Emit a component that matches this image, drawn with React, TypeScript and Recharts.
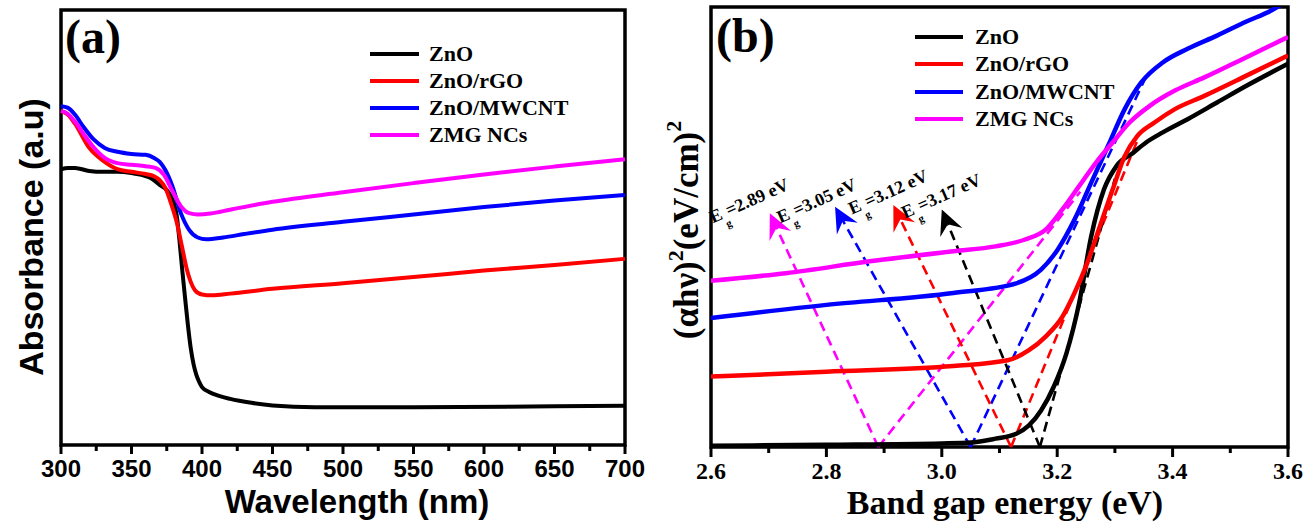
import React from 'react';
import {
  LineChart,
  Line,
  XAxis,
  YAxis,
  ReferenceArea,
  ReferenceLine,
  ReferenceDot,
  Legend,
} from 'recharts';

// ---------- (a) UV-vis absorbance spectra ----------
const wlTicks = [300, 325, 350, 375, 400, 425, 450, 475, 500, 525, 550, 575, 600, 625, 650, 675, 700];

const wlZnO = [300, 305, 310, 320, 330, 340, 350, 360, 365, 370, 375, 378, 380, 382, 384, 386, 388, 390, 392, 394, 396, 398, 400, 405, 412, 420, 435, 450, 480, 550, 650, 700];
const absZnO = [0.634, 0.637, 0.637, 0.63, 0.628, 0.628, 0.625, 0.618, 0.611, 0.598, 0.586, 0.572, 0.556, 0.529, 0.471, 0.402, 0.338, 0.276, 0.223, 0.186, 0.161, 0.145, 0.133, 0.122, 0.113, 0.106, 0.097, 0.091, 0.087, 0.087, 0.089, 0.09];

const wlRGO = [300, 305, 310, 320, 330, 340, 350, 360, 366, 370, 374, 378, 382, 386, 389, 392, 395, 400, 407, 420, 450, 500, 550, 600, 650, 700];
const absRGO = [0.768, 0.759, 0.738, 0.683, 0.653, 0.634, 0.628, 0.623, 0.618, 0.609, 0.591, 0.556, 0.513, 0.453, 0.407, 0.375, 0.356, 0.346, 0.344, 0.348, 0.359, 0.372, 0.386, 0.401, 0.414, 0.428];

const wlCNT = [300, 305, 310, 316, 323, 331, 340, 350, 360, 366, 370, 374, 379, 385, 391, 397, 403, 415, 430, 450, 500, 550, 600, 650, 700];
const absCNT = [0.779, 0.775, 0.759, 0.731, 0.703, 0.683, 0.674, 0.669, 0.667, 0.66, 0.651, 0.632, 0.595, 0.533, 0.494, 0.477, 0.473, 0.477, 0.485, 0.495, 0.513, 0.53, 0.547, 0.562, 0.575];

const wlZMG = [300, 305, 310, 316, 323, 331, 340, 350, 360, 367, 373, 379, 385, 391, 397, 406, 420, 450, 500, 550, 600, 650, 700];
const absZMG = [0.768, 0.761, 0.743, 0.715, 0.685, 0.66, 0.648, 0.644, 0.641, 0.637, 0.621, 0.584, 0.549, 0.533, 0.53, 0.532, 0.541, 0.559, 0.581, 0.602, 0.622, 0.64, 0.657];

// ---------- (b) Tauc plots ----------
const eTicks = [2.6, 2.7, 2.8, 2.9, 3.0, 3.1, 3.2, 3.3, 3.4, 3.5, 3.6];

const eZnO = [2.6, 2.8, 3.0, 3.05, 3.093, 3.129, 3.151, 3.172, 3.194, 3.216, 3.238, 3.259, 3.281, 3.303, 3.332, 3.354, 3.383, 3.426, 3.477, 3.528, 3.6];
const tZnO = [0.003, 0.005, 0.008, 0.01, 0.019, 0.03, 0.049, 0.083, 0.137, 0.213, 0.327, 0.479, 0.585, 0.639, 0.669, 0.692, 0.715, 0.745, 0.783, 0.821, 0.871];

const eRGO = [2.6, 2.8, 3.02, 3.114, 3.151, 3.18, 3.209, 3.23, 3.252, 3.274, 3.296, 3.317, 3.339, 3.368, 3.404, 3.455, 3.528, 3.6];
const tRGO = [0.16, 0.171, 0.184, 0.197, 0.22, 0.251, 0.296, 0.35, 0.418, 0.502, 0.585, 0.661, 0.707, 0.737, 0.768, 0.798, 0.844, 0.89];

const eCNT = [2.6, 2.8, 3.02, 3.129, 3.172, 3.201, 3.23, 3.259, 3.288, 3.317, 3.346, 3.383, 3.426, 3.477, 3.528, 3.571, 3.6];
const tCNT = [0.293, 0.323, 0.35, 0.372, 0.403, 0.449, 0.517, 0.601, 0.684, 0.768, 0.829, 0.874, 0.905, 0.935, 0.967, 0.992, 1.015];

const eZMG = [2.6, 2.73, 2.875, 3.02, 3.093, 3.143, 3.18, 3.209, 3.238, 3.267, 3.296, 3.325, 3.361, 3.404, 3.455, 3.528, 3.6];
const tZMG = [0.378, 0.395, 0.422, 0.445, 0.456, 0.471, 0.494, 0.54, 0.593, 0.646, 0.692, 0.737, 0.776, 0.81, 0.84, 0.886, 0.932];

// Band-gap extrapolation (order: ZMG NCs, ZnO/MWCNT, ZnO/rGO, ZnO)
const gapValues = [2.89, 3.05, 3.12, 3.17];
const gapColors = ['#ff00ff', '#0000ff', '#ff0000', '#000000'];
const tangentTopE = [3.24, 3.357, 3.34, 3.3];
const tangentTopT = [0.58, 0.85, 0.7, 0.61];
const arrowTipE = [2.702, 2.815, 2.916, 3.0];
const arrowTipT = [0.531, 0.546, 0.55, 0.54];
const labelE = [2.603, 2.72, 2.844, 2.936];
const labelT = [0.508, 0.508, 0.528, 0.519];

const seriesNames = ['ZnO', 'ZnO/rGO', 'ZnO/MWCNT', 'ZMG NCs'];

const zip = (xs: number[], ys: number[]) => xs.map((x, i) => ({ x, y: ys[i] }));

const SANS = '"Liberation Sans", Arial, sans-serif';
const SERIF = '"Liberation Serif", "Times New Roman", serif';

const WlTick = (props: any) => {
  const { x, y, payload } = props;
  const v = payload.value as number;
  const major = v % 50 === 0;
  return (
    <g>
      <line x1={x} x2={x} y1={y} y2={y + (major ? 9 : 6)} stroke="#000" strokeWidth={3} />
      {major && (
        <text x={x} y={y + 32} textAnchor="middle" fontFamily={SANS} fontWeight="bold" fontSize={24} fill="#000">
          {v}
        </text>
      )}
    </g>
  );
};

const ETick = (props: any) => {
  const { x, y, payload } = props;
  const v = payload.value as number;
  const major = Math.round(v * 10) % 2 === 0;
  return (
    <g>
      <line x1={x} x2={x} y1={y} y2={y + (major ? 10 : 6)} stroke="#000" strokeWidth={3} />
      {major && (
        <text x={x} y={y + 32} textAnchor="middle" fontFamily={SERIF} fontWeight="bold" fontSize={24} fill="#000">
          {v.toFixed(1)}
        </text>
      )}
    </g>
  );
};

const makeLegend = (lineW: number, gap: number, rowH: number) => (props: any) => {
  const items = [...(props.payload || [])].sort(
    (a: any, b: any) => seriesNames.indexOf(a.value) - seriesNames.indexOf(b.value)
  );
  return (
    <div style={{ display: 'flex', flexDirection: 'column' }}>
      {items.map((e: any) => (
        <div key={e.value} style={{ display: 'flex', alignItems: 'center', height: rowH }}>
          <span style={{ display: 'inline-block', width: lineW, height: 4, background: e.color, marginRight: gap }} />
          <span style={{ fontFamily: SERIF, fontWeight: 'bold', fontSize: 22, color: '#000', lineHeight: 1 }}>{e.value}</span>
        </div>
      ))}
    </div>
  );
};

const GapArrow = (props: any) => {
  const { x1, y1, x2, y2, stroke } = props;
  const dx = x2 - x1;
  const dy = y2 - y1;
  const len = Math.hypot(dx, dy) || 1;
  const ux = dx / len;
  const uy = dy / len;
  const head = 25;
  const half = 12;
  const notch = 9;
  const bx = x2 - ux * head;
  const by = y2 - uy * head;
  const nx = x2 - ux * (head - notch);
  const ny = y2 - uy * (head - notch);
  const px = -uy;
  const py = ux;
  const pts = [
    [x2, y2],
    [bx + px * half, by + py * half],
    [nx, ny],
    [bx - px * half, by - py * half],
  ]
    .map((p) => p.join(','))
    .join(' ');
  return (
    <g>
      <line x1={x1} y1={y1} x2={nx} y2={ny} stroke={stroke} strokeWidth={2.6} strokeDasharray="10 6" />
      <polygon points={pts} fill={stroke} />
    </g>
  );
};

const GapLabel = (props: any) => {
  const { cx, cy, gap } = props;
  return (
    <text
      x={cx}
      y={cy}
      transform={`rotate(-24 ${cx} ${cy})`}
      fontFamily={SERIF}
      fontWeight="bold"
      fontSize={18}
      fill="#000"
    >
      <tspan>E</tspan>
      <tspan dy={10} fontSize={11}>g</tspan>
      <tspan dy={-10}>{`=${gap.toFixed(2)} eV`}</tspan>
    </text>
  );
};

export default function App() {
  return (
    <div style={{ position: 'absolute', left: 0, top: 0, width: 1315, height: 526, background: '#fff' }}>
      {/* (a) absorbance */}
      <div style={{ position: 'absolute', left: 0, top: 0 }}>
        <LineChart width={660} height={526} margin={{ top: 10, right: 35, bottom: 0, left: 61 }}>
          <XAxis
            type="number"
            dataKey="x"
            domain={[300, 700]}
            ticks={wlTicks}
            interval={0}
            axisLine={false}
            tickLine={false}
            tickSize={0}
            tickMargin={0}
            height={81}
            tick={<WlTick />}
          />
          <YAxis type="number" dataKey="y" domain={[0, 1]} hide />
          <Line data={zip(wlZnO, absZnO)} dataKey="y" name={seriesNames[0]} type="monotone" stroke="#000000" strokeWidth={4} dot={false} isAnimationActive={false} />
          <Line data={zip(wlRGO, absRGO)} dataKey="y" name={seriesNames[1]} type="monotone" stroke="#ff0000" strokeWidth={4} dot={false} isAnimationActive={false} />
          <Line data={zip(wlCNT, absCNT)} dataKey="y" name={seriesNames[2]} type="monotone" stroke="#0000ff" strokeWidth={4} dot={false} isAnimationActive={false} />
          <Line data={zip(wlZMG, absZMG)} dataKey="y" name={seriesNames[3]} type="monotone" stroke="#ff00ff" strokeWidth={4} dot={false} isAnimationActive={false} />
          <ReferenceArea x1={300} x2={700} y1={0} y2={1} fill="none" stroke="#000" strokeWidth={3.5} ifOverflow="visible" />
          <Legend
            layout="horizontal"
            verticalAlign="middle"
            content={makeLegend(49, 10, 27)}
            wrapperStyle={{ left: 370, top: 40, width: 260, height: 110 }}
          />
        </LineChart>
      </div>

      {/* (b) Tauc plot */}
      <div style={{ position: 'absolute', left: 660, top: 0 }}>
        <LineChart width={655} height={526} margin={{ top: 7, right: 27, bottom: 0, left: 51 }}>
          <XAxis
            type="number"
            dataKey="x"
            domain={[2.6, 3.6]}
            ticks={eTicks}
            interval={0}
            axisLine={false}
            tickLine={false}
            tickSize={0}
            tickMargin={0}
            height={79}
            tick={<ETick />}
            allowDataOverflow
          />
          <YAxis type="number" dataKey="y" domain={[0, 1]} hide allowDataOverflow />
          {gapValues.map((g, i) => (
            <ReferenceLine
              key={`t${i}`}
              segment={[
                { x: g, y: 0 },
                { x: tangentTopE[i], y: tangentTopT[i] },
              ]}
              stroke={gapColors[i]}
              strokeWidth={2.6}
              strokeDasharray="10 6"
              ifOverflow="visible"
            />
          ))}
          {gapValues.map((g, i) => (
            <ReferenceLine
              key={`a${i}`}
              segment={[
                { x: g, y: 0 },
                { x: arrowTipE[i], y: arrowTipT[i] },
              ]}
              stroke={gapColors[i]}
              ifOverflow="visible"
              shape={(p: any) => <GapArrow {...p} />}
            />
          ))}
          <Line data={zip(eZnO, tZnO)} dataKey="y" name={seriesNames[0]} type="monotone" stroke="#000000" strokeWidth={4.5} dot={false} isAnimationActive={false} />
          <Line data={zip(eRGO, tRGO)} dataKey="y" name={seriesNames[1]} type="monotone" stroke="#ff0000" strokeWidth={4.5} dot={false} isAnimationActive={false} />
          <Line data={zip(eCNT, tCNT)} dataKey="y" name={seriesNames[2]} type="monotone" stroke="#0000ff" strokeWidth={4.5} dot={false} isAnimationActive={false} />
          <Line data={zip(eZMG, tZMG)} dataKey="y" name={seriesNames[3]} type="monotone" stroke="#ff00ff" strokeWidth={4.5} dot={false} isAnimationActive={false} />
          {gapValues.map((g, i) => (
            <ReferenceDot
              key={`l${i}`}
              x={labelE[i]}
              y={labelT[i]}
              ifOverflow="visible"
              shape={(p: any) => <GapLabel {...p} gap={g} />}
            />
          ))}
          <ReferenceArea x1={2.6} x2={3.6} y1={0} y2={1} fill="none" stroke="#000" strokeWidth={3.5} ifOverflow="visible" />
          <Legend
            layout="horizontal"
            verticalAlign="middle"
            content={makeLegend(48, 12, 27.5)}
            wrapperStyle={{ left: 255, top: 23, width: 260, height: 112 }}
          />
        </LineChart>
      </div>

      {/* panel tags and axis titles */}
      <svg width={1315} height={526} style={{ position: 'absolute', left: 0, top: 0, pointerEvents: 'none' }}>
        <text x={65} y={53} fontFamily={SERIF} fontWeight="bold" fontSize={48} fill="#000">(a)</text>
        <text x={716} y={52} fontFamily={SERIF} fontWeight="bold" fontSize={48} fill="#000">(b)</text>
        <text x={357} y={513} textAnchor="middle" fontFamily={SANS} fontWeight="bold" fontSize={33} fill="#000">
          Wavelength (nm)
        </text>
        <text x={1005} y={514} textAnchor="middle" fontFamily={SERIF} fontWeight="bold" fontSize={34} fill="#000">
          Band gap energy (eV)
        </text>
        <text x={43} y={237} transform="rotate(-90 43 237)" textAnchor="middle" fontFamily={SANS} fontWeight="bold" fontSize={34} fill="#000">
          Absorbance (a.u)
        </text>
        <text x={698} y={230} transform="rotate(-90 698 230)" textAnchor="middle" fontFamily={SERIF} fontWeight="bold" fontSize={35} fill="#000">
          <tspan>(αhν)</tspan>
          <tspan dy={-15} fontSize={22}>2</tspan>
          <tspan dy={15}>(eV/cm)</tspan>
          <tspan dy={-17} fontSize={22}>2</tspan>
        </text>
      </svg>
    </div>
  );
}
